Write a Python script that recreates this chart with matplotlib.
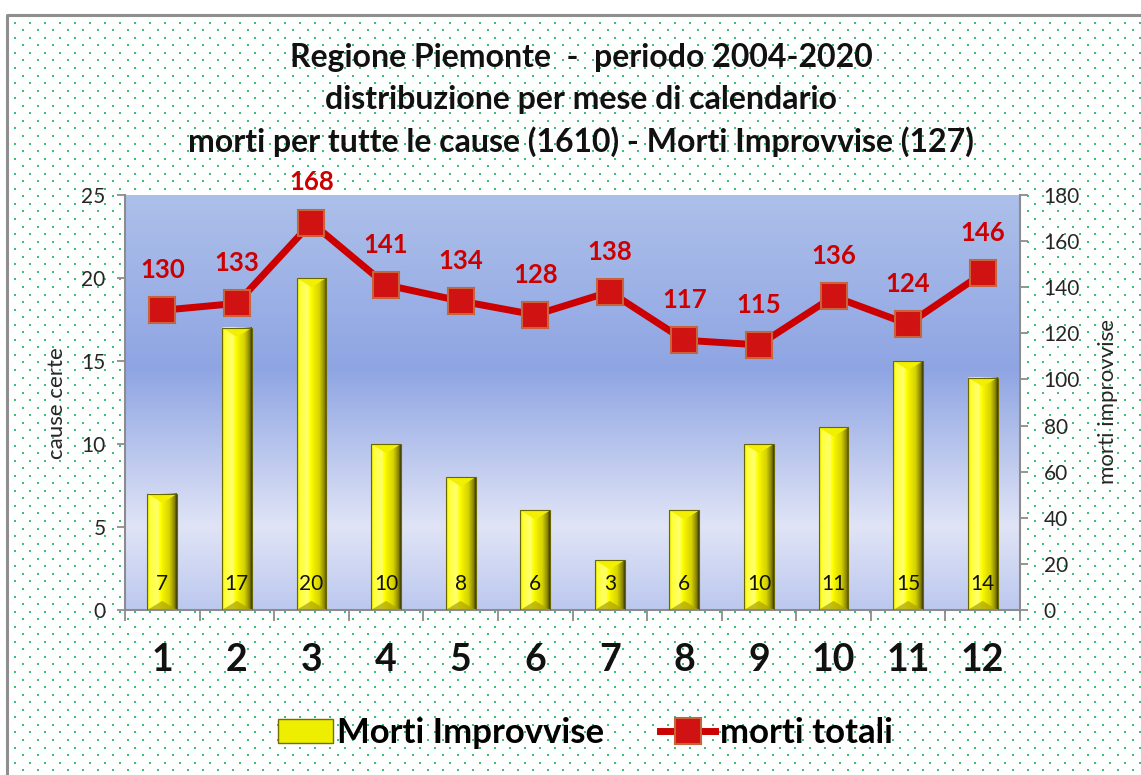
import numpy as np
import matplotlib
matplotlib.use('Agg')
import matplotlib.pyplot as plt
from matplotlib.colors import LinearSegmentedColormap
from matplotlib.patches import Patch, Polygon
from matplotlib.lines import Line2D

plt.rcParams['font.family'] = ['Lato', 'DejaVu Sans']

# ---------------- data ----------------
months = ['1', '2', '3', '4', '5', '6', '7', '8', '9', '10', '11', '12']
morti_improvvise = [7, 17, 20, 10, 8, 6, 3, 6, 10, 11, 15, 14]
morti_totali = [130, 133, 168, 141, 134, 128, 138, 117, 115, 136, 124, 146]
title_lines = ['Regione Piemonte  -  periodo 2004-2020',
               'distribuzione per mese di calendario',
               'morti per tutte le cause (1610) - Morti Improvvise (127)']
left_ticks = [0, 5, 10, 15, 20, 25]
right_ticks = [0, 20, 40, 60, 80, 100, 120, 140, 160, 180]
series_names = ['Morti Improvvise', 'morti totali']
left_label = 'cause certe'
right_label = 'morti improvvise'

W, H = 1141, 775
fig = plt.figure(figsize=(W / 100, H / 100), dpi=100)
fig.patch.set_facecolor('white')

# ---------- background: dotted pattern + border ----------
bg = fig.add_axes([0, 0, 1, 1], zorder=-10)
bg.set_xlim(0, W)
bg.set_ylim(H, 0)
bg.axis('off')
dx, dy = [], []
for r, yy in enumerate(np.arange(22.7, H, 7.55)):
    x0 = 15.0 if r % 2 == 0 else 22.5
    xx = np.arange(x0, W, 15.0)
    dx.extend(xx)
    dy.extend([yy] * len(xx))
bg.scatter(dx, dy, s=2.5, c='#38c277', marker='s', linewidths=0)
bg.plot([7, 7, W], [H, 15, 15], color='#8f8f8f', lw=2.2, solid_capstyle='butt')

# ---------- plot area ----------
rect = [125 / W, 165 / H, 895 / W, 415 / H]
gax = fig.add_axes(rect, zorder=-5)
gax.axis('off')
bg_cmap = LinearSegmentedColormap.from_list(
    'bgc', [(0.0, '#bcc8ef'), (0.2, '#e0e4f6'), (0.58, '#8fa5e3'), (1.0, '#adc0ea')])
gax.imshow(np.linspace(1, 0, 256).reshape(-1, 1), aspect='auto', cmap=bg_cmap,
           extent=[0, 1, 0, 1], vmin=0, vmax=1)
gax.set_xlim(0, 1)
gax.set_ylim(0, 1)

ax = fig.add_axes(rect, zorder=1)
ax.set_facecolor('none')
x = np.arange(len(months))
bw = 0.40

bar_cmap = LinearSegmentedColormap.from_list(
    'barc', [(0.0, '#d8d800'), (0.08, '#ffff30'), (0.35, '#ffff70'), (0.45, '#ffff00'),
             (0.75, '#d6d200'), (0.92, '#8a8600'), (1.0, '#3a3800')])
bars = ax.bar(x, morti_improvvise, bw, color='none', edgecolor='#6a6600', lw=0.8, zorder=3)
grad = np.linspace(0, 1, 128).reshape(1, -1)
for b in bars:
    x0, x1, h = b.get_x(), b.get_x() + b.get_width(), b.get_height()
    ax.imshow(grad, extent=[x0, x1, 0, h], aspect='auto', cmap=bar_cmap, zorder=2,
              interpolation='bilinear')
    d = 0.55
    xc = (x0 + x1) / 2
    ax.add_patch(Polygon([[x0, h], [x1, h], [xc, h - d]], closed=True,
                         facecolor='#f2f000', edgecolor='none', zorder=2.5))
    ax.add_patch(Polygon([[x0, 0], [x1, 0], [xc, d]], closed=True,
                         facecolor='#aaa200', edgecolor='none', alpha=0.7, zorder=2.5))

for i, v in enumerate(morti_improvvise):
    ax.annotate(str(v), (x[i], 0), xytext=(0, 19), textcoords='offset points',
                ha='center', va='center', fontsize=15, color='#111111', zorder=6)

ax.set_xlim(-0.5, len(months) - 0.5)
ax.set_ylim(0, 25)
ax.set_yticks(left_ticks)
ax.set_xticks(x)
ax.set_xticklabels(months, fontsize=27, fontweight='bold', color='#111111')
ax.set_xticks(np.arange(-0.5, len(months), 1), minor=True)
ax.tick_params(axis='x', which='major', length=0, pad=24)
ax.tick_params(axis='x', which='minor', length=8, width=1.3, color='#8c8c8c', direction='out')
ax.tick_params(axis='y', direction='out', length=6, width=1.3, color='#8c8c8c',
               labelsize=15, labelcolor='#262626', pad=8)
for s in ['top', 'right']:
    ax.spines[s].set_visible(False)
for s in ['left', 'bottom']:
    ax.spines[s].set_color('#8c8c8c')
    ax.spines[s].set_linewidth(1.5)

ax2 = ax.twinx()
ax2.set_ylim(0, 180)
ax2.set_yticks(right_ticks)
ax2.tick_params(axis='y', direction='out', length=6, width=1.3, color='#8c8c8c',
                labelsize=15, labelcolor='#262626', pad=11)
for s in ['top', 'left', 'bottom']:
    ax2.spines[s].set_visible(False)
ax2.spines['right'].set_color('#8c8c8c')
ax2.spines['right'].set_linewidth(1.5)

line_kw = dict(color='#cc0000', lw=5, marker='s', ms=19, mfc='#d01212',
               mec='#c8643c', mew=1.5)
ax2.plot(x, morti_totali, zorder=5, **line_kw)
for i, v in enumerate(morti_totali):
    ax2.annotate(str(v), (x[i], v), xytext=(0, 29), textcoords='offset points',
                 ha='center', va='center', fontsize=18.5, fontweight='bold',
                 color='#cc0000', zorder=6)

# ---------- texts ----------
for yy, t in zip([57, 100, 142], title_lines):
    fig.text(581 / W, 1 - yy / H, t, ha='center', va='center', fontsize=23,
             fontweight='bold', color='#111111')
fig.text(57 / W, 1 - 403 / H, left_label, rotation=90, ha='center', va='center',
         fontsize=16, color='#262626')
fig.text(1108 / W, 1 - 401 / H, right_label, rotation=90, ha='center', va='center',
         fontsize=16, color='#262626')

handles = [Patch(facecolor='#eeee00', edgecolor='#707000', lw=1),
           Line2D([], [], **line_kw)]
fig.legend(handles, series_names, loc='center', bbox_to_anchor=(585 / W, 1 - 733 / H),
           ncol=2, frameon=False, prop={'size': 25, 'weight': 'bold'},
           handlelength=1.6, handleheight=0.7, handletextpad=0.12, columnspacing=1.6)

fig.savefig('out.png', dpi=100)
